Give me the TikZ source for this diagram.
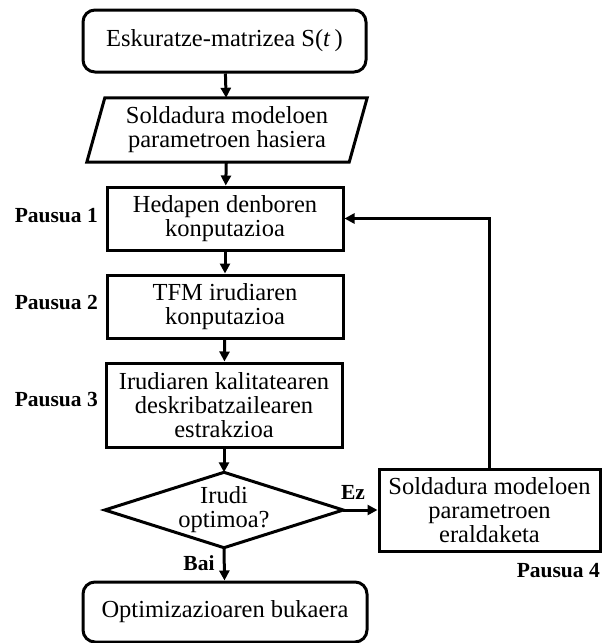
\documentclass[tikz,border=0pt]{standalone}
\usepackage{fontspec}
\setmainfont{Liberation Serif}
\usetikzlibrary{arrows.meta}
\begin{document}
\begin{tikzpicture}[x=1pt,y=-1pt,
  every node/.style={inner sep=0pt, font=\fontsize{24.5}{24}\selectfont, align=center},
  box/.style={draw, line width=3pt, minimum width=236pt, minimum height=63pt},
  rbox/.style={box, rounded corners=12pt},
  ghost/.style={draw=none, minimum width=#1},
  lbl/.style={font=\fontsize{21.5}{22}\selectfont\bfseries},
  conn/.style={line width=3pt, -{Triangle[length=10pt,width=10pt]}},
  shp/.style={line width=3pt, line join=miter}
]
\useasboundingbox (0,0) rectangle (602,643);

\node[rbox, minimum width=283pt, minimum height=62pt] (start) at (224.5,41) {Eskuratze-matrizea S(\textit{t}\,)};
\node[ghost=262pt, minimum height=64pt] (par) at (227,130) {Soldadura modeloen\\parametroen hasiera};
\draw[shp] ([xshift=9pt]par.north west) -- ([xshift=9pt]par.north east) -- ([xshift=-9pt]par.south east) -- ([xshift=-9pt]par.south west) -- cycle;

\node[box] (b1) at (225,218.5) {Hedapen denboren\\konputazioa};
\node[box] (b2) at (225,306.5) {TFM irudiaren\\konputazioa};
\node[box, minimum height=84pt] (b3) at (224,405) {Irudiaren kalitatearen\\deskribatzailearen\\estrakzioa};
\node[ghost=238pt, minimum height=75pt] (dec) at (224,510) {Irudi\\optimoa?};
\draw[shp] (dec.north) -- (dec.east) -- (dec.south) -- (dec.west) -- cycle;
\node[box, minimum width=221pt, minimum height=82pt] (mod) at (489.5,510) {Soldadura modeloen\\parametroen\\eraldaketa};
\node[rbox, minimum width=284pt, minimum height=60pt] (end) at (225,612) {Optimizazioaren bukaera};

\draw[conn] (start) -- (par);
\draw[conn] (par) -- (b1);
\draw[conn] (b1) -- (b2);
\draw[conn] (b2) -- (b3);
\draw[conn] (b3) -- (dec.north);
\draw[conn] (dec.south) -- (end);
\draw[conn] (dec.east) -- (mod);
\draw[conn] (mod.north) |- (b1.east);

\node[lbl, anchor=east] (p1) at (98,216) {Pausua 1};
\node[lbl, anchor=east] (p2) at (98,303) {Pausua 2};
\node[lbl, anchor=east] (p3) at (98,400) {Pausua 3};
\node[lbl, anchor=east] (p4) at (600,571) {Pausua 4};
\node[lbl] (ez) at (353,492) {Ez};
\node[lbl] (bai) at (199,563) {Bai};
\end{tikzpicture}
\end{document}
